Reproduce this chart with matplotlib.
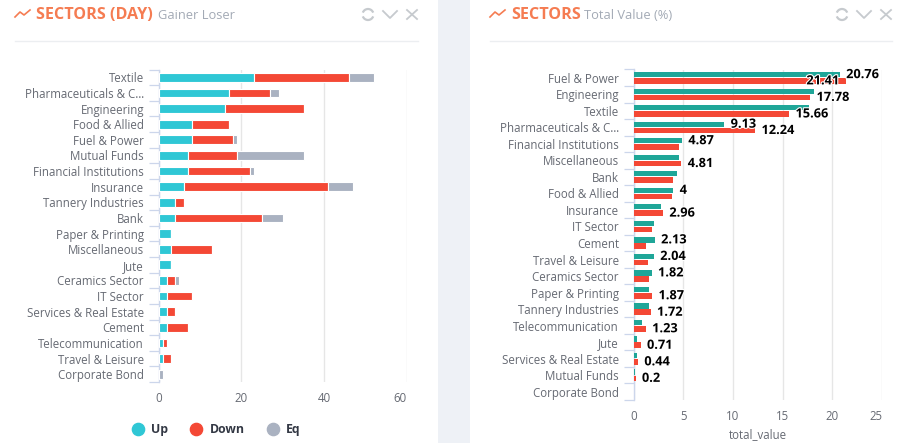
#!/usr/bin/env python3
"""Sector dashboard: gainer/loser stacks and total value bars."""
import matplotlib
matplotlib.use("Agg")
import matplotlib.pyplot as plt
import matplotlib.patheffects as pe
import numpy as np
from matplotlib.lines import Line2D
from matplotlib.patches import Arc, Rectangle

W, H = 899, 443

plt.rcParams["font.family"] = ["Open Sans", "DejaVu Sans"]

UP_COLOR = "#2fc7d5"
DOWN_COLOR = "#f44835"
EQ_COLOR = "#aab2c1"
TEAL = "#1fa698"
AXIS_COLOR = "#ccd6eb"
GRID_COLOR = "#e6e6e6"
TEXT_COLOR = "#666a73"
ORANGE = "#f57c52"

day_sectors = ["Textile", "Pharmaceuticals & C…", "Engineering", "Food & Allied", "Fuel & Power",
               "Mutual Funds", "Financial Institutions", "Insurance", "Tannery Industries", "Bank",
               "Paper & Printing", "Miscellaneous", "Jute", "Ceramics Sector", "IT Sector",
               "Services & Real Estate", "Cement", "Telecommunication", "Travel & Leisure",
               "Corporate Bond"]
day_up = [23, 17, 16, 8, 8, 7, 7, 6, 4, 4, 3, 3, 3, 2, 2, 2, 2, 1, 1, 0]
day_down = [23, 10, 19, 9, 10, 12, 15, 35, 2, 21, 0, 10, 0, 2, 6, 2, 5, 1, 2, 0]
day_eq = [6, 2, 0, 0, 1, 16, 1, 6, 0, 5, 0, 0, 0, 1, 0, 0, 0, 0, 0, 1]

value_sectors = ["Fuel & Power", "Engineering", "Textile", "Pharmaceuticals & C…",
                 "Financial Institutions", "Miscellaneous", "Bank", "Food & Allied", "Insurance",
                 "IT Sector", "Cement", "Travel & Leisure", "Ceramics Sector", "Paper & Printing",
                 "Tannery Industries", "Telecommunication", "Jute", "Services & Real Estate",
                 "Mutual Funds", "Corporate Bond"]
value_first = [20.76, 18.15, 17.65, 9.13, 4.87, 4.6, 4.36, 4, 2.75, 2.05, 2.13, 2.04, 1.82, 1.55,
               1.55, 0.85, 0.35, 0.35, 0.15, 0]
value_second = [21.41, 17.78, 15.66, 12.24, 4.6, 4.81, 3.96, 3.9, 2.96, 1.87, 1.25, 1.45, 1.55,
                1.87, 1.72, 1.23, 0.71, 0.44, 0.2, 0]
# only some labels survive the overlap handling in the original chart
first_labels = ["20.76", None, None, "9.13", "4.87", None, None, "4", None, None, "2.13", "2.04",
                "1.82", None, None, None, None, None, None, None]
second_labels = ["21.41", "17.78", "15.66", "12.24", None, "4.81", None, None, "2.96", None, None,
                 None, None, "1.87", "1.72", "1.23", "0.71", "0.44", "0.2", None]


def px_axes(fig, left, top, right, bottom):
    return fig.add_axes([left / W, 1 - bottom / H, (right - left) / W, (bottom - top) / H])


def style_axes(ax, labels, xticks, xmax):
    n = len(labels)
    ax.set_xlim(0, xmax)
    ax.set_ylim(n - 0.5, -0.5)
    ax.patch.set_alpha(0)
    for side in ["top", "right", "bottom"]:
        ax.spines[side].set_visible(False)
    ax.spines["left"].set_color(AXIS_COLOR)
    ax.spines["left"].set_linewidth(1)
    ax.set_yticks(np.arange(n))
    ax.set_yticklabels(labels, fontsize=8.3, color=TEXT_COLOR)
    ax.set_yticks(np.arange(n + 1) - 0.5, minor=True)
    ax.tick_params(axis="y", which="major", length=0, pad=10.6)
    ax.tick_params(axis="y", which="minor", length=7, width=0.9, color=AXIS_COLOR)
    ax.set_xticks(xticks)
    ax.tick_params(axis="x", length=0, pad=7.5, labelsize=8.3, labelcolor=TEXT_COLOR)
    ax.get_xticklabels()[-1].set_ha("right")
    ax.grid(axis="x", color=GRID_COLOR, linewidth=1, zorder=0)
    ax.set_axisbelow(True)


def draw_chrome(bg, x0, x1, title, subtitle, sub_x):
    # trend icon, title, window buttons and the rule under them
    bg.plot([x0, x0 + 5, x0 + 9, x0 + 15], [17, 12, 15, 10], color=ORANGE, lw=1.2)
    bg.text(x0 + 21, 14.5, title, fontsize=11.6, fontweight="bold", color=ORANGE, va="center")
    bg.text(sub_x, 15.5, subtitle, fontsize=9.3, color="#a3aab5", va="center")
    bg.plot([x0, x1], [41, 41], color="#eceef1", lw=1)
    icon = "#c6cace"
    cx = x1 - 50
    bg.add_patch(Arc((cx, 14.5), 11, 11, theta1=20, theta2=160, color=icon, lw=1.6))
    bg.add_patch(Arc((cx, 14.5), 11, 11, theta1=200, theta2=340, color=icon, lw=1.6))
    bg.plot([x1 - 35, x1 - 28, x1 - 21], [11, 18, 11], color=icon, lw=1.3)
    bg.plot([x1 - 11, x1 - 1], [10, 19], color=icon, lw=1.3)
    bg.plot([x1 - 11, x1 - 1], [19, 10], color=icon, lw=1.3)


def plot_day(fig):
    ax = px_axes(fig, 158.7, 69.5, 407, 382)
    style_axes(ax, day_sectors, [0, 20, 40, 60], 60)
    y = np.arange(len(day_sectors))
    up = np.array(day_up)
    down = np.array(day_down)
    eq = np.array(day_eq)
    kw = dict(height=0.56, edgecolor="white", linewidth=0.8, zorder=3)
    ax.barh(y, up, color=UP_COLOR, **kw)
    ax.barh(y, down, left=up, color=DOWN_COLOR, **kw)
    ax.barh(y, eq, left=up + down, color=EQ_COLOR, **kw)
    handles = [Line2D([], [], linestyle="", marker="o", markersize=8.8, color=c, label=t)
               for c, t in [(UP_COLOR, "Up"), (DOWN_COLOR, "Down"), (EQ_COLOR, "Eq")]]
    leg = fig.legend(handles=handles, loc="center", bbox_to_anchor=(213 / W, 1 - 429.5 / H), ncol=3,
                     frameon=False, handletextpad=0.1, columnspacing=1.3,
                     prop={"weight": "bold", "size": 8.8})
    for t in leg.get_texts():
        t.set_color("#333844")


def plot_value(fig):
    ax = px_axes(fig, 633.7, 69.5, 882, 400)
    style_axes(ax, value_sectors, [0, 5, 10, 15, 20, 25], 25)
    y = np.arange(len(value_sectors))
    ax.barh(y - 0.19, value_first, height=0.32, color=TEAL, zorder=3)
    ax.barh(y + 0.19, value_second, height=0.34, color=DOWN_COLOR, zorder=3)
    ax.set_xlabel("total_value", fontsize=8.3, color=TEXT_COLOR, labelpad=3)
    outline = [pe.withStroke(linewidth=1.6, foreground="white")]
    for offs, vals, labels in [(-0.19, value_first, first_labels), (0.19, value_second, second_labels)]:
        for i, (v, lab) in enumerate(zip(vals, labels)):
            if lab is None:
                continue
            # a label running past the plot gets pulled back over its bar
            too_wide = v > 21
            ax.annotate(lab, (v, i + offs), xytext=(-5 if too_wide else 4.5, 0), textcoords="offset points",
                        ha="right" if too_wide else "left", va="center", fontsize=9.2, fontweight="bold",
                        color="black", path_effects=outline, zorder=5, annotation_clip=False)


def main():
    fig = plt.figure(figsize=(W / 100, H / 100), dpi=100, facecolor="#eef1f6")
    bg = fig.add_axes([0, 0, 1, 1], zorder=-1)
    bg.set_xlim(0, W)
    bg.set_ylim(H, 0)
    bg.axis("off")
    bg.add_patch(Rectangle((0, 0), 438, H, color="white", lw=0))
    bg.add_patch(Rectangle((470, 0), W - 470, H, color="white", lw=0))
    draw_chrome(bg, 15, 418, "SECTORS (DAY)", "Gainer Loser", 158)
    draw_chrome(bg, 490, 892, "SECTORS", "Total Value (%)", 584)

    plot_day(fig)
    plot_value(fig)
    fig.savefig("out.png", dpi=100, facecolor=fig.get_facecolor())


if __name__ == "__main__":
    main()
